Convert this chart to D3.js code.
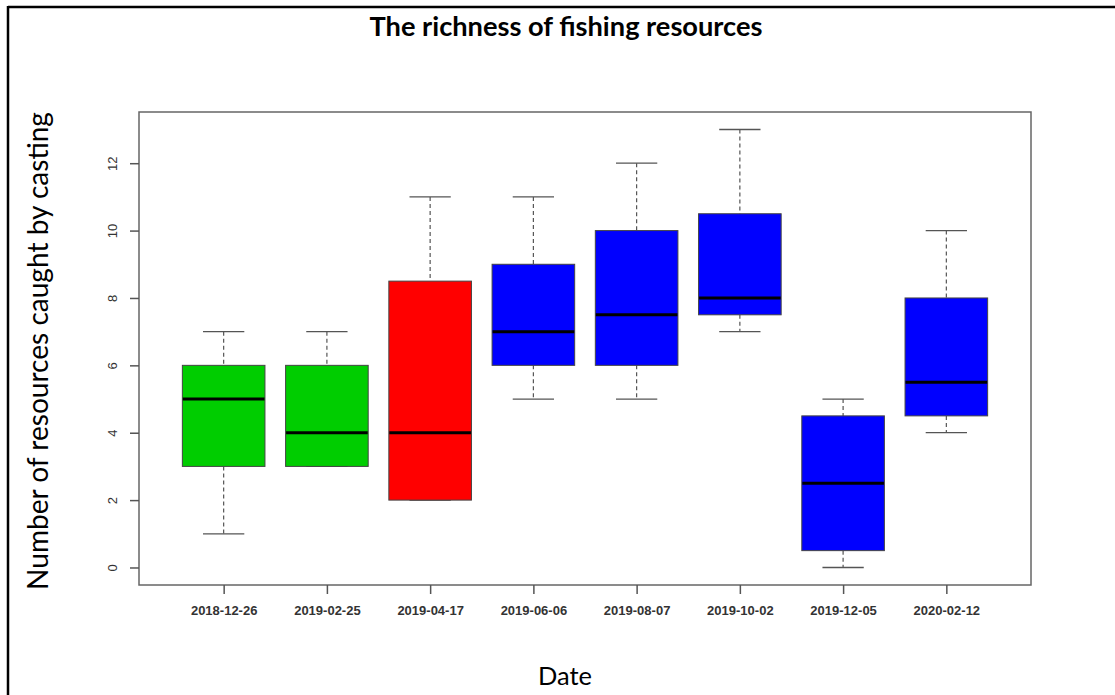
<!DOCTYPE html>
<html>
<head>
<meta charset="utf-8">
<script src="https://cdn.jsdelivr.net/npm/d3@7"></script>
<style>
  html, body { margin: 0; padding: 0; background: #fff; }
  svg { display: block; }
</style>
</head>
<body>
<svg id="chart" width="1115" height="695"></svg>
<script>
// Sampling dates (one box per date)
const dates = ["2018-12-26", "2019-02-25", "2019-04-17", "2019-06-06",
               "2019-08-07", "2019-10-02", "2019-12-05", "2020-02-12"];
// Five-number summaries per date
const whiskerLow  = [1, 3, 2, 5, 5, 7, 0, 4];
const quartile1   = [3, 3, 2, 6, 6, 7.5, 0.5, 4.5];
const medians     = [5, 4, 4, 7, 7.5, 8, 2.5, 5.5];
const quartile3   = [6, 6, 8.5, 9, 10, 10.5, 4.5, 8];
const whiskerHigh = [7, 7, 11, 11, 12, 13, 5, 10];
// Fill group per date
const fills = ["#00CD00", "#00CD00", "#FF0000", "#0000FF",
               "#0000FF", "#0000FF", "#0000FF", "#0000FF"];
const yTicks = [0, 2, 4, 6, 8, 10, 12];

const title = "The richness of fishing resources";
const xTitle = "Date";
const yTitle = "Number of resources caught by casting";

const svg = d3.select("#chart");
const W = 1115, H = 695;

// Plot panel
const panel = { left: 139, right: 1031, top: 112, bottom: 585 };

const rows = dates.map((d, i) => ({
  date: d, lo: whiskerLow[i], q1: quartile1[i], med: medians[i],
  q3: quartile3[i], hi: whiskerHigh[i], fill: fills[i]
}));

// Linear x scale over box index (1..n) with R-style padding
const n = dates.length;
const xPad = 0.04 * n;
const x = d3.scaleLinear()
  .domain([0.5 - xPad, n + 0.5 + xPad])
  .range([panel.left, panel.right]);
const yMin = d3.min(whiskerLow), yMax = d3.max(whiskerHigh);
const yPad = 0.04 * (yMax - yMin);
const y = d3.scaleLinear()
  .domain([yMin - yPad, yMax + yPad])
  .range([panel.bottom, panel.top]);

const boxW = 0.8, capW = 0.4;

// Outer frame (runs off the right and bottom edges)
svg.append("line").attr("x1", 8).attr("x2", W + 5).attr("y1", 7).attr("y2", 7)
  .attr("stroke", "#000").attr("stroke-width", 2.5);
svg.append("line").attr("x1", 8).attr("x2", 8).attr("y1", 6).attr("y2", H + 5)
  .attr("stroke", "#000").attr("stroke-width", 2.5);

// Boxes
const g = svg.append("g");
const box = g.selectAll("g.box").data(rows).join("g").attr("class", "box");

// whiskers (dashed)
box.append("line")
  .attr("x1", (d, i) => x(i + 1)).attr("x2", (d, i) => x(i + 1))
  .attr("y1", d => y(d.hi)).attr("y2", d => y(d.q3))
  .attr("stroke", "#555").attr("stroke-width", 1.2).attr("stroke-dasharray", "4,3");
box.append("line")
  .attr("x1", (d, i) => x(i + 1)).attr("x2", (d, i) => x(i + 1))
  .attr("y1", d => y(d.q1)).attr("y2", d => y(d.lo))
  .attr("stroke", "#555").attr("stroke-width", 1.2).attr("stroke-dasharray", "4,3");
// caps
box.append("line")
  .attr("x1", (d, i) => x(i + 1 - capW / 2)).attr("x2", (d, i) => x(i + 1 + capW / 2))
  .attr("y1", d => y(d.hi)).attr("y2", d => y(d.hi))
  .attr("stroke", "#555").attr("stroke-width", 1.3);
box.append("line")
  .attr("x1", (d, i) => x(i + 1 - capW / 2)).attr("x2", (d, i) => x(i + 1 + capW / 2))
  .attr("y1", d => y(d.lo)).attr("y2", d => y(d.lo))
  .attr("stroke", "#555").attr("stroke-width", 1.3);
// box body
box.append("rect")
  .attr("x", (d, i) => x(i + 1 - boxW / 2))
  .attr("width", (d, i) => x(i + 1 + boxW / 2) - x(i + 1 - boxW / 2))
  .attr("y", d => y(d.q3))
  .attr("height", d => y(d.q1) - y(d.q3))
  .attr("fill", d => d.fill)
  .attr("stroke", "#444").attr("stroke-width", 1);
// median
box.append("line")
  .attr("x1", (d, i) => x(i + 1 - boxW / 2) + 0.5).attr("x2", (d, i) => x(i + 1 + boxW / 2) - 0.5)
  .attr("y1", d => y(d.med)).attr("y2", d => y(d.med))
  .attr("stroke", "#000").attr("stroke-width", 3);

// Panel border
svg.append("rect")
  .attr("x", panel.left).attr("y", panel.top)
  .attr("width", panel.right - panel.left).attr("height", panel.bottom - panel.top)
  .attr("fill", "none").attr("stroke", "#666").attr("stroke-width", 1.5);

// X axis
const xAxis = svg.append("g").attr("transform", `translate(0,${panel.bottom})`)
  .call(d3.axisBottom(x)
    .tickValues(d3.range(1, n + 1))
    .tickFormat(i => dates[i - 1])
    .tickSize(9).tickPadding(12));
xAxis.select(".domain").remove();
xAxis.selectAll(".tick line").attr("stroke", "#555").attr("stroke-width", 1.5);
xAxis.selectAll(".tick text")
  .attr("fill", "#333").style("font-family", "'Liberation Sans', Arial, sans-serif")
  .style("font-size", "13px").style("font-weight", "600");

// Y axis
const yAxis = svg.append("g").attr("transform", `translate(${panel.left},0)`)
  .call(d3.axisLeft(y).tickValues(yTicks).tickSize(9).tickPadding(0));
yAxis.select(".domain").remove();
yAxis.selectAll(".tick line").attr("stroke", "#555").attr("stroke-width", 1.5);
yAxis.selectAll(".tick text")
  .attr("fill", "#333").attr("x", null).attr("dy", null)
  .attr("text-anchor", "middle")
  .attr("transform", "translate(-27,0) rotate(-90)")
  .attr("dy", "0.35em")
  .style("font-family", "'Liberation Sans', Arial, sans-serif")
  .style("font-size", "13px");

// Scale text so its rendered width hits a given span
function fitWidth(sel, target) {
  const fs = parseFloat(sel.style("font-size"));
  const w = sel.node().getComputedTextLength();
  sel.style("font-size", (fs * target / w).toFixed(2) + "px");
}

const titleText = svg.append("text")
  .attr("x", 566).attr("y", 36).attr("text-anchor", "middle")
  .style("font-family", "Lato, 'Open Sans', sans-serif")
  .style("font-weight", "bold").style("font-size", "22px")
  .attr("fill", "#000").text(title);
fitWidth(titleText, 393);

const xText = svg.append("text")
  .attr("x", 565).attr("y", 685).attr("text-anchor", "middle")
  .style("font-family", "Lato, 'Open Sans', sans-serif")
  .style("font-size", "25px").attr("fill", "#000").text(xTitle);
fitWidth(xText, 54);

const yText = svg.append("text")
  .attr("transform", "translate(48,351) rotate(-90)")
  .attr("text-anchor", "middle")
  .style("font-family", "Lato, 'Open Sans', sans-serif")
  .style("font-size", "23px").attr("fill", "#000").text(yTitle);
fitWidth(yText, 478);
</script>
</body>
</html>
